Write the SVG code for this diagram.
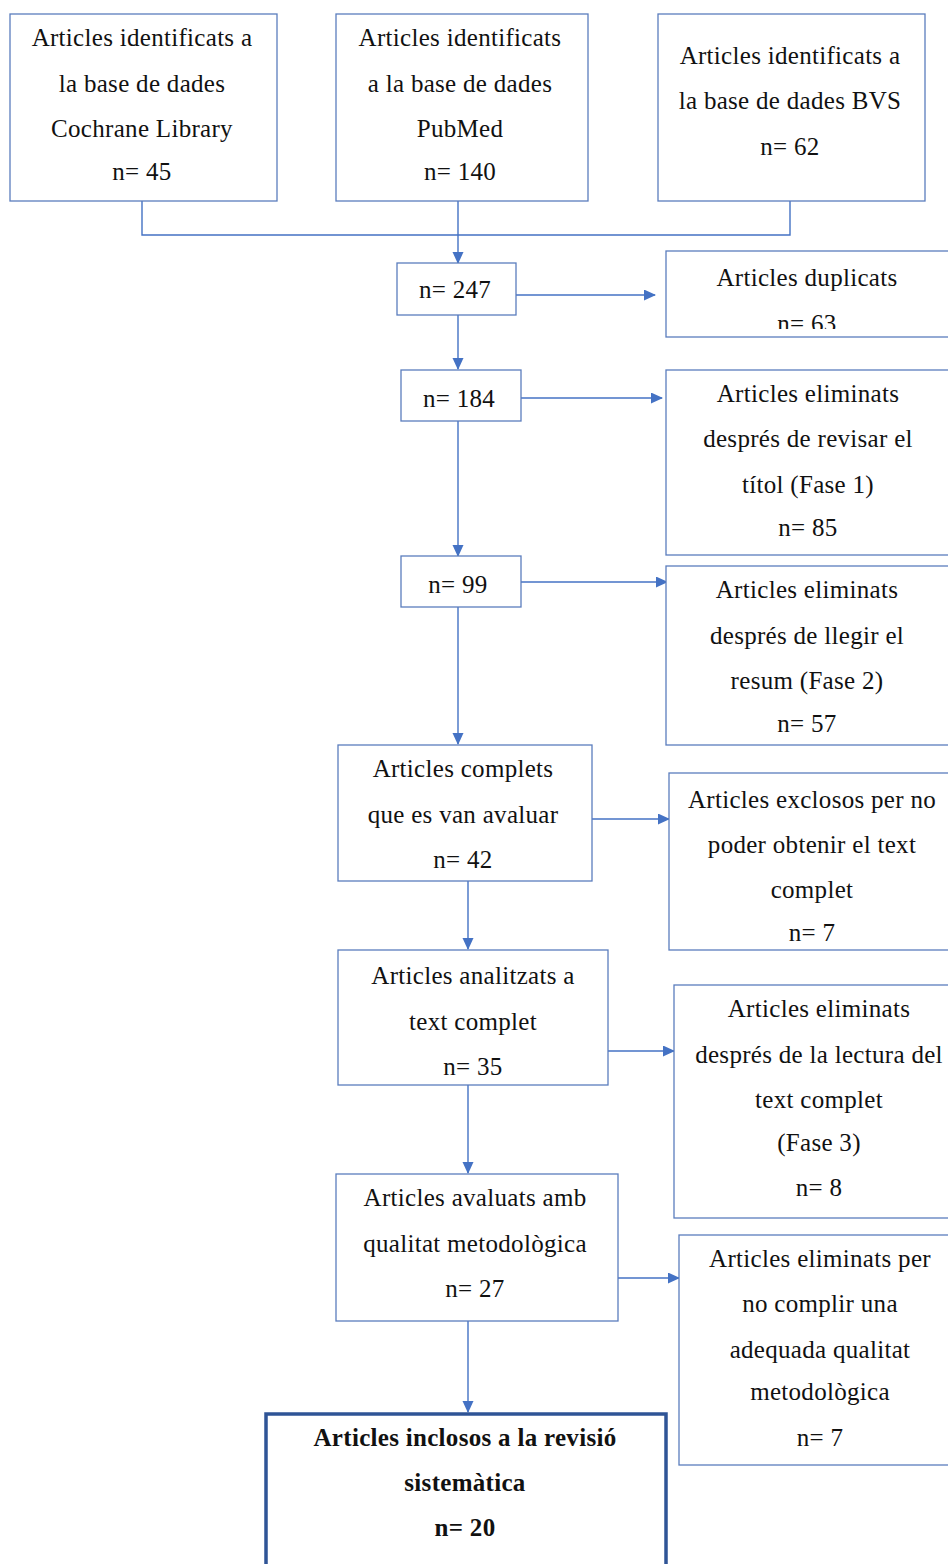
<svg xmlns="http://www.w3.org/2000/svg" width="948" height="1564" viewBox="0 0 948 1564">
<style>
.box{fill:#fff;stroke:#5b7dbd;stroke-width:1.3}
.fin{fill:#fff;stroke:#2f5496;stroke-width:3.5}
.t{font-family:"Liberation Serif","Times New Roman",serif;font-size:25px;letter-spacing:0.3px;fill:#111;text-anchor:middle}
.b{font-weight:bold}
.c{fill:none;stroke:#4472c4;stroke-width:1.4}
</style>
<defs>
<marker id="ah" markerWidth="12" markerHeight="12" refX="11" refY="5.5" orient="auto" markerUnits="userSpaceOnUse">
<path d="M0,0 L12,5.5 L0,11 z" fill="#4472c4"/>
</marker>
<clipPath id="clipDup"><rect x="666" y="251" width="300" height="78"/></clipPath>
</defs>
<rect width="948" height="1564" fill="#fff"/>
<g id="connectors">
<polyline class="c" points="142,201 142,235 790,235 790,201"/>
<line class="c" x1="458" y1="201" x2="458" y2="263" marker-end="url(#ah)"/>
<line class="c" x1="516" y1="295" x2="655" y2="295" marker-end="url(#ah)"/>
<line class="c" x1="458" y1="315" x2="458" y2="369" marker-end="url(#ah)"/>
<line class="c" x1="521" y1="398" x2="662" y2="398" marker-end="url(#ah)"/>
<line class="c" x1="458" y1="421" x2="458" y2="556" marker-end="url(#ah)"/>
<line class="c" x1="521" y1="582" x2="667" y2="582" marker-end="url(#ah)"/>
<line class="c" x1="458" y1="607" x2="458" y2="744" marker-end="url(#ah)"/>
<line class="c" x1="592" y1="819" x2="669" y2="819" marker-end="url(#ah)"/>
<line class="c" x1="468" y1="881" x2="468" y2="949" marker-end="url(#ah)"/>
<line class="c" x1="608" y1="1051" x2="674" y2="1051" marker-end="url(#ah)"/>
<line class="c" x1="468" y1="1085" x2="468" y2="1173" marker-end="url(#ah)"/>
<line class="c" x1="616" y1="1278" x2="679" y2="1278" marker-end="url(#ah)"/>
<line class="c" x1="468" y1="1321" x2="468" y2="1412" marker-end="url(#ah)"/>
</g>
<g id="cochrane">
<rect class="box" x="10" y="14" width="267" height="187"/>
<text class="t" x="142" y="46">Articles identificats a</text>
<text class="t" x="142" y="92">la base de dades</text>
<text class="t" x="142" y="137">Cochrane Library</text>
<text class="t" x="142" y="180">n= 45</text>
</g>
<g id="pubmed">
<rect class="box" x="336" y="14" width="252" height="187"/>
<text class="t" x="460" y="46">Articles identificats</text>
<text class="t" x="460" y="92">a la base de dades</text>
<text class="t" x="460" y="137">PubMed</text>
<text class="t" x="460" y="180">n= 140</text>
</g>
<g id="bvs">
<rect class="box" x="658" y="14" width="267" height="187"/>
<text class="t" x="790" y="64">Articles identificats a</text>
<text class="t" x="790" y="109">la base de dades BVS</text>
<text class="t" x="790" y="155">n= 62</text>
</g>
<g id="n247">
<rect class="box" x="397" y="263" width="119" height="52"/>
<text class="t" x="455" y="298">n= 247</text>
</g>
<g id="duplicats">
<rect class="box" x="666" y="251" width="300" height="86"/>
<text class="t" x="807" y="286">Articles duplicats</text>
<text class="t" x="807" y="332" clip-path="url(#clipDup)">n= 63</text>
</g>
<g id="n184">
<rect class="box" x="401" y="370" width="120" height="51"/>
<text class="t" x="459" y="407">n= 184</text>
</g>
<g id="fase1">
<rect class="box" x="666" y="370" width="300" height="185"/>
<text class="t" x="808" y="402">Articles eliminats</text>
<text class="t" x="808" y="447">després de revisar el</text>
<text class="t" x="808" y="493">títol (Fase 1)</text>
<text class="t" x="808" y="536">n= 85</text>
</g>
<g id="n99">
<rect class="box" x="401" y="556" width="120" height="51"/>
<text class="t" x="458" y="593">n= 99</text>
</g>
<g id="fase2">
<rect class="box" x="666" y="566" width="300" height="179"/>
<text class="t" x="807" y="598">Articles eliminats</text>
<text class="t" x="807" y="644">després de llegir el</text>
<text class="t" x="807" y="689">resum (Fase 2)</text>
<text class="t" x="807" y="732">n= 57</text>
</g>
<g id="complets">
<rect class="box" x="338" y="745" width="254" height="136"/>
<text class="t" x="463" y="777">Articles complets</text>
<text class="t" x="463" y="823">que es van avaluar</text>
<text class="t" x="463" y="868">n= 42</text>
</g>
<g id="exclosos">
<rect class="box" x="669" y="773" width="300" height="177"/>
<text class="t" x="812" y="808">Articles exclosos per no</text>
<text class="t" x="812" y="853">poder obtenir el text</text>
<text class="t" x="812" y="898">complet</text>
<text class="t" x="812" y="941">n= 7</text>
</g>
<g id="analitzats">
<rect class="box" x="338" y="950" width="270" height="135"/>
<text class="t" x="473" y="984">Articles analitzats a</text>
<text class="t" x="473" y="1030">text complet</text>
<text class="t" x="473" y="1075">n= 35</text>
</g>
<g id="fase3">
<rect class="box" x="674" y="985" width="300" height="233"/>
<text class="t" x="819" y="1017">Articles eliminats</text>
<text class="t" x="819" y="1063">després de la lectura del</text>
<text class="t" x="819" y="1108">text complet</text>
<text class="t" x="819" y="1151">(Fase 3)</text>
<text class="t" x="819" y="1196">n= 8</text>
</g>
<g id="avaluats">
<rect class="box" x="336" y="1174" width="282" height="147"/>
<text class="t" x="475" y="1206">Articles avaluats amb</text>
<text class="t" x="475" y="1252">qualitat metodològica</text>
<text class="t" x="475" y="1297">n= 27</text>
</g>
<g id="qualitat">
<rect class="box" x="679" y="1235" width="300" height="230"/>
<text class="t" x="820" y="1267">Articles eliminats per</text>
<text class="t" x="820" y="1312">no complir una</text>
<text class="t" x="820" y="1358">adequada qualitat</text>
<text class="t" x="820" y="1400">metodològica</text>
<text class="t" x="820" y="1446">n= 7</text>
</g>
<g id="inclosos">
<rect class="fin" x="266" y="1414" width="400" height="170"/>
<text class="t b" x="465" y="1446">Articles inclosos a la revisió</text>
<text class="t b" x="465" y="1491">sistemàtica</text>
<text class="t b" x="465" y="1536">n= 20</text>
</g>
</svg>
